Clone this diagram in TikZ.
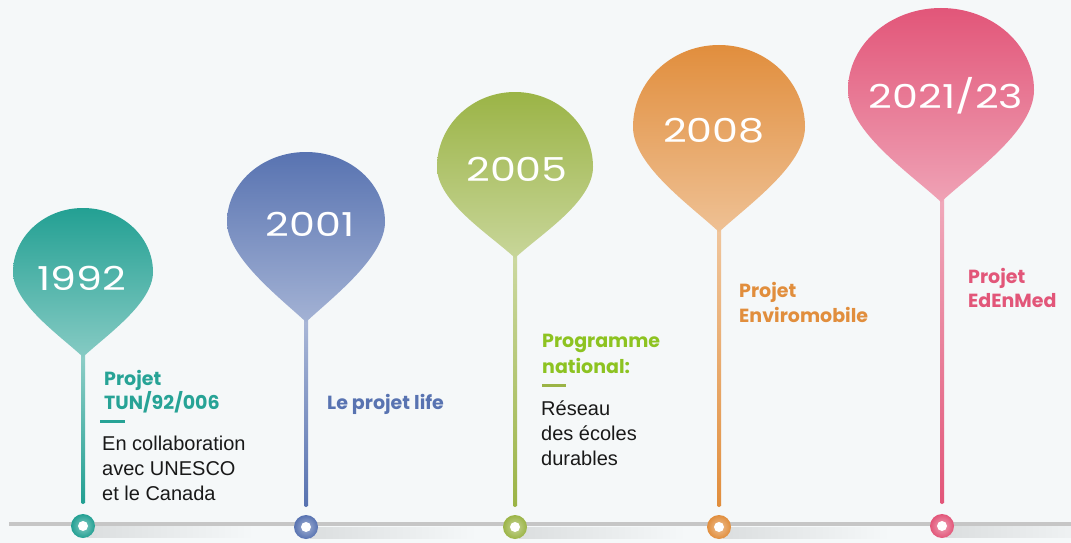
\documentclass[tikz,border=0pt]{standalone}
\usepackage{fontspec}
\setmainfont{Liberation Sans}
\newfontfamily\popfont{Poppins}
\usetikzlibrary{calc,fadings}
\definecolor{bgc}{HTML}{F5F8F9}
\definecolor{lineg}{HTML}{C6C6C6}
\definecolor{cTeal}{HTML}{23A093}
\definecolor{cTealT}{HTML}{27A396}
\definecolor{cBlue}{HTML}{5873B1}
\definecolor{cGreen}{HTML}{9BB446}
\definecolor{cGreenT}{HTML}{8DC321}
\definecolor{cOrange}{HTML}{E18E3D}
\definecolor{cPink}{HTML}{E25679}
\newcommand\mkballoon[6]{%
 \shade[top color=#6, middle color=#6!96!white, bottom color=#6!55!white]
 (#1,#5) .. controls ({#1-0.32*#2},{#5-0.3*#2}) and ({#1-#2},{#4+0.45*#2}) .. ({#1-#2},#4)
 .. controls ({#1-#2},{#4-0.552*(#4-#3)}) and ({#1-0.552*#2},#3) .. (#1,#3)
 .. controls ({#1+0.552*#2},#3) and ({#1+#2},{#4-0.552*(#4-#3)}) .. ({#1+#2},#4)
 .. controls ({#1+#2},{#4+0.45*#2}) and ({#1+0.32*#2},{#5-0.3*#2}) .. (#1,#5) -- cycle;}
\newcommand\mkstem[3]{%
 \shade[top color=#3!50!white, bottom color=#3] ($(#1)+(-2,0)$) rectangle ($(#2)+(2,0)$);
 \fill[#3] (#2) circle (2pt);}
\newcommand\mkshadow[1]{%
 \fill[black, opacity=0.10, path fading=east] ($(#1)+(4,0)$) rectangle ($(#1)+(170,12)$);}
\newcommand\yr[1]{\scalebox{1.25}[1]{#1}}
\begin{document}
\begin{tikzpicture}[x=1pt,y=-1pt,
  year/.style={text=white, font=\popfont\fontsize{33}{40}\selectfont, anchor=base, inner sep=0},
  head/.style={font=\popfont\bfseries\fontsize{19}{24}\selectfont, anchor=base west, inner sep=0},
  body/.style={font=\fontsize{20}{25}\selectfont, anchor=base west, inner sep=0, text=black!90},
  dot/.style={circle, minimum size=24pt, inner sep=0, inner color=#1!55!white, outer color=#1},
  hole/.style={circle, fill=white, minimum size=10pt, inner sep=0},
  bar/.style={line width=3pt}
]
\fill[bgc] (0,0) rectangle (1071,543);
\useasboundingbox (0,0) rectangle (1071,543);

% dot positions
\coordinate (p1) at (83,526);
\coordinate (p2) at (306,527);
\coordinate (p3) at (515,527);
\coordinate (p4) at (719,527);
\coordinate (p5) at (942,526);
\foreach \i in {1,...,5} {\mkshadow{p\i}}

% timeline
\coordinate (lineL) at (9,524);
\coordinate (lineR) at (1071,524);
\draw[lineg, line width=4pt] (lineL) -- (lineR);

% tips and stem ends
\coordinate (tip1) at (83,350);  \coordinate (end1) at (83,502);
\coordinate (tip2) at (306,315); \coordinate (end2) at (306,505);
\coordinate (tip3) at (515,250); \coordinate (end3) at (515,505);
\coordinate (tip4) at (719,225); \coordinate (end4) at (719,505);
\coordinate (tip5) at (942,195); \coordinate (end5) at (942,502);

\mkstem{tip1}{end1}{cTeal}
\mkstem{tip2}{end2}{cBlue}
\mkstem{tip3}{end3}{cGreen}
\mkstem{tip4}{end4}{cOrange}
\mkstem{tip5}{end5}{cPink}

% balloons: cx, r, top, widest, tip, color
\mkballoon{83}{70}{208}{272}{357}{cTeal}
\mkballoon{306}{79}{152}{222}{322}{cBlue}
\mkballoon{515}{78}{92}{167}{258}{cGreen}
\mkballoon{719}{86}{45}{127}{232}{cOrange}
\mkballoon{941}{93}{8}{90}{202}{cPink}

% years
\node[year] (y1) at (82,290) {\yr{1992}};
\node[year] (y2) at (310,236) {\yr{2001}};
\node[year] (y3) at (517,181) {\yr{2005}};
\node[year] (y4) at (714,142) {\yr{2008}};
\node[year] (y5) at (946,108) {\yr{2021/23}};

% dots
\node[dot=cTeal] (d1) at (p1) {};
\node[dot=cBlue] (d2) at (p2) {};
\node[dot=cGreen] (d3) at (p3) {};
\node[dot=cOrange] (d4) at (p4) {};
\node[dot=cPink] (d5) at (p5) {};
\foreach \i in {1,...,5} \node[hole] (h\i) at (d\i) {};

% texts 1992
\node[head, text=cTealT] (t1a) at (104,385) {Projet};
\node[head, text=cTealT] (t1b) at (104,409) {TUN/92/006};
\coordinate (b1L) at (100,421); \coordinate (b1R) at (125,421);
\draw[bar, cTealT] (b1L) -- (b1R);
\node[body] (t1c) at (102,450) {En collaboration};
\node[body] (t1d) at (102,475) {avec UNESCO};
\node[body] (t1e) at (102,500) {et le Canada};

% 2001
\node[head, text=cBlue] (t2a) at (327,409) {Le projet life};

% 2005
\node[head, text=cGreenT] (t3a) at (542,347) {Programme};
\node[head, text=cGreenT] (t3b) at (542,373) {national:};
\coordinate (b3L) at (542,385); \coordinate (b3R) at (566,385);
\draw[bar, cGreen] (b3L) -- (b3R);
\node[body] (t3c) at (541,415) {Réseau};
\node[body] (t3d) at (541,440) {des écoles};
\node[body] (t3e) at (541,465) {durables};

% 2008
\node[head, text=cOrange] (t4a) at (739,297) {Projet};
\node[head, text=cOrange] (t4b) at (739,322) {Enviromobile};

% 2021/23
\node[head, text=cPink] (t5a) at (968,283) {Projet};
\node[head, text=cPink] (t5b) at (968,307) {EdEnMed};
\end{tikzpicture}
\end{document}
